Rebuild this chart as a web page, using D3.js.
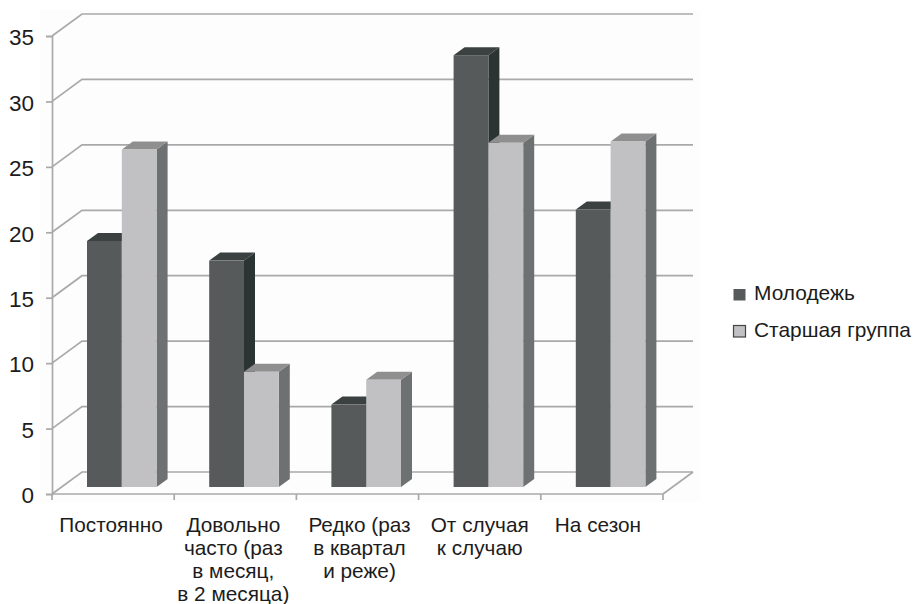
<!DOCTYPE html>
<html>
<head>
<meta charset="utf-8">
<script src="https://cdn.jsdelivr.net/npm/d3@7"></script>
<style>
  html, body { margin: 0; padding: 0; background: #fff; }
  text { font-family: "Liberation Sans", sans-serif; fill: #1c1c1c; }
</style>
</head>
<body>
<svg width="913" height="604"></svg>
<script>
// Data
const categories = ["Постоянно", "Довольно", "Редко", "От случая", "На сезон"];
const categoryLines = [
  ["Постоянно"],
  ["Довольно", "часто (раз", "в месяц,", "в 2 месяца)"],
  ["Редко (раз", "в квартал", "и реже)"],
  ["От случая", "к случаю"],
  ["На сезон"]
];
const seriesNames = ["Молодежь", "Старшая группа"];
const young = [18.8, 17.3, 6.3, 33, 21.2];
const older = [25.8, 8.8, 8.2, 26.3, 26.4];
const yTicks = [0, 5, 10, 15, 20, 25, 30, 35];

const svg = d3.select("svg");

// Scales for the front plane of the box
const x = d3.scaleBand().domain(categories).range([52, 663]);
const y = d3.scaleLinear().domain([0, 35]).range([494, 36]);

// 3D offsets
const depthX = 30, depthY = 22;
const barDy = 7;
const sideX = 11, sideY = 8;
const barW = 34.8, barPad = 35;
// the labels don't sit exactly centred under the bands
const labelShift = [-2, -2, 2, 0, -4];

const colors = [
  { front: "#565a5b", side: "#2c3433", top: "#3a4140" },
  { front: "#c1c1c3", side: "#6e7172", top: "#8f8f8f" }
];
const gridColor = "#a9a9a9";

// faint wall background
svg.append("rect")
  .attr("x", 40).attr("y", 10)
  .attr("width", 660).attr("height", 492)
  .attr("fill", "#fdfdfd");

// Gridlines: diagonal on the left wall, then along the back wall
const grid = svg.append("g")
  .attr("fill", "none")
  .attr("stroke", gridColor)
  .attr("stroke-width", 1.7);

grid.selectAll("path.wall")
  .data(yTicks)
  .enter()
  .append("path")
  .attr("class", "wall")
  .attr("d", d => "M52," + y(d) + "L" + (52 + depthX) + "," + (y(d) - depthY) + "H" + (663 + depthX));

// Floor edge on the right
grid.append("path")
  .attr("d", "M663," + y(0) + "L" + (663 + depthX) + "," + (y(0) - depthY));

// Axes
const yAxis = svg.append("g")
  .attr("transform", "translate(52,0)")
  .call(d3.axisLeft(y).tickValues(yTicks).tickSize(6).tickPadding(12));

const xAxis = svg.append("g")
  .attr("transform", "translate(0," + y(0) + ")")
  .call(d3.axisBottom(x).tickValues([]).tickSize(0));

// ticks between the categories
xAxis.selectAll("line.sep")
  .data(d3.range(categories.length + 1))
  .enter()
  .append("line")
  .attr("class", "sep")
  .attr("x1", i => 52 + i * x.bandwidth())
  .attr("x2", i => 52 + i * x.bandwidth())
  .attr("y1", 0).attr("y2", 6);

[yAxis, xAxis].forEach(a => {
  a.selectAll("path,line").attr("stroke", gridColor).attr("stroke-width", 1.7);
});
yAxis.selectAll("text")
  .style("font-size", "22.5px")
  .attr("fill", "#1c1c1c")
  .attr("dy", "0.39em");
xAxis.select("path").attr("d", "M52,0H663");

// Category labels
svg.append("g")
  .selectAll("text")
  .data(categories)
  .enter()
  .append("text")
  .attr("text-anchor", "middle")
  .style("font-size", "20.8px")
  .each(function(d, i) {
    d3.select(this).selectAll("tspan")
      .data(categoryLines[i])
      .enter()
      .append("tspan")
      .attr("x", x(d) + x.bandwidth() / 2 + labelShift[i])
      .attr("y", (l, j) => 532 + j * 23)
      .text(l => l);
  });

// Bars, drawn as front, side and top faces
function drawBar(g, cat, value, s) {
  const left = x(cat) + barPad + s * barW;
  const right = left + barW;
  const base = y(0) - barDy;
  const top = y(value) - barDy;
  const c = colors[s];
  g.append("path").attr("fill", c.side)
    .attr("d", d3.line()([[right, base], [right + sideX, base - sideY], [right + sideX, top - sideY], [right, top]]) + "Z");
  g.append("path").attr("fill", c.top)
    .attr("d", d3.line()([[left, top], [left + sideX, top - sideY], [right + sideX, top - sideY], [right, top]]) + "Z");
  g.append("rect").attr("fill", c.front)
    .attr("x", left).attr("y", top)
    .attr("width", barW).attr("height", base - top);
}

const bars = svg.append("g");
categories.forEach((cat, i) => {
  drawBar(bars, cat, young[i], 0);
  drawBar(bars, cat, older[i], 1);
});

// Legend
const legend = svg.append("g");
seriesNames.forEach((name, i) => {
  const ly = 295 + i * 36.5;
  legend.append("rect")
    .attr("x", 733.5)
    .attr("y", ly - 6)
    .attr("width", 12).attr("height", 11.5)
    .attr("fill", colors[i].front)
    .attr("stroke", i === 0 ? "none" : "#444")
    .attr("stroke-width", 1.2);
  legend.append("text")
    .attr("x", 754).attr("y", ly + 5)
    .style("font-size", "20.9px")
    .text(name);
});
</script>
</body>
</html>
